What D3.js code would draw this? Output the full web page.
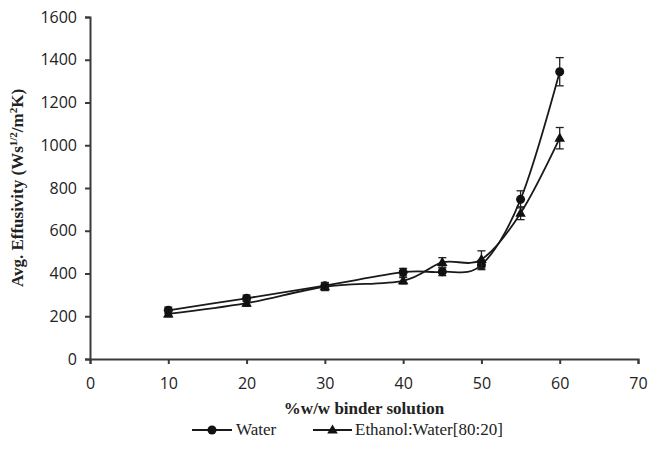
<!DOCTYPE html>
<html>
<head>
<meta charset="utf-8">
<script src="https://cdn.jsdelivr.net/npm/d3@7"></script>
<style>
  body { margin: 0; background: #fff; }
  svg { display: block; }
  .tick text { font-family: "Open Sans", sans-serif; font-size: 16px; fill: #222; }
</style>
</head>
<body>
<div id="chart"></div>
<script>
// Values
const concentrations = [10, 20, 30, 40, 45, 50, 55, 60];
const waterMean = [228, 284, 343, 406, 408, 440, 747, 1344];
const waterErr = [15, 15, 15, 18, 18, 22, 40, 66];
const ethanolMean = [211, 261, 338, 366, 452, 466, 682, 1033];
const ethanolErr = [14, 14, 18, 15, 22, 40, 30, 50];
const xTicks = [0, 10, 20, 30, 40, 50, 60, 70];
const yTicks = [0, 200, 400, 600, 800, 1000, 1200, 1400, 1600];

const width = 649, height = 456;
const margin = {top: 17, right: 11, bottom: 97, left: 90};

const svg = d3.select('#chart').append('svg')
  .attr('width', width)
  .attr('height', height);

const x = d3.scaleLinear().domain([0, 70]).range([margin.left, width - margin.right]);
const y = d3.scaleLinear().domain([0, 1600]).range([height - margin.bottom, margin.top]);

const axisColor = '#3a3a3a';

// Axes
const xAxis = svg.append('g')
  .attr('transform', 'translate(0,' + y(0) + ')')
  .call(d3.axisBottom(x).tickValues(xTicks).tickFormat(d3.format('d')).tickSize(5).tickPadding(14));
const yAxis = svg.append('g')
  .attr('transform', 'translate(' + x(0) + ',0)')
  .call(d3.axisLeft(y).tickValues(yTicks).tickFormat(d3.format('d')).tickSize(5).tickPadding(8));
[xAxis, yAxis].forEach(function(a) {
  a.select('.domain').attr('stroke', axisColor).attr('stroke-width', 2);
  a.selectAll('.tick line').attr('stroke', axisColor).attr('stroke-width', 2);
});

// Series
const series = [
  {name: 'Water', mean: waterMean, err: waterErr, marker: 'circle'},
  {name: 'Ethanol:Water[80:20]', mean: ethanolMean, err: ethanolErr, marker: 'triangle'}
];

const line = d3.line()
  .x(function(d) { return x(d[0]); })
  .y(function(d) { return y(d[1]); })
  .curve(d3.curveCatmullRom.alpha(0));

function drawMarker(g, type, cx, cy) {
  if (type === 'circle') {
    g.append('circle').attr('cx', cx).attr('cy', cy).attr('r', 4.5).attr('fill', '#111');
  } else {
    g.append('path')
      .attr('d', d3.symbol().type(d3.symbolTriangle).size(48)())
      .attr('transform', 'translate(' + cx + ',' + (cy + 0.5) + ')')
      .attr('fill', '#111');
  }
}

series.forEach(function(s) {
  const pts = concentrations.map(function(c, i) { return [c, s.mean[i]]; });
  const g = svg.append('g');
  g.append('path')
    .attr('d', line(pts))
    .attr('fill', 'none')
    .attr('stroke', '#1a1a1a')
    .attr('stroke-width', 1.8);

  // Error bars
  concentrations.forEach(function(c, i) {
    const cx = x(c);
    const top = y(s.mean[i] + s.err[i]);
    const bot = y(s.mean[i] - s.err[i]);
    g.append('line').attr('x1', cx).attr('x2', cx).attr('y1', top).attr('y2', bot)
      .attr('stroke', '#222').attr('stroke-width', 1.3);
    [top, bot].forEach(function(yy) {
      g.append('line').attr('x1', cx - 4).attr('x2', cx + 4).attr('y1', yy).attr('y2', yy)
        .attr('stroke', '#222').attr('stroke-width', 1.3);
    });
    drawMarker(g, s.marker, cx, y(s.mean[i]));
  });
});

// Axis titles
svg.append('text')
  .attr('x', (x(0) + x(70)) / 2)
  .attr('y', 414)
  .attr('text-anchor', 'middle')
  .style('font-family', '"Liberation Serif", "Times New Roman", serif')
  .style('font-weight', 'bold')
  .style('font-size', '17px')
  .style('fill', '#222')
  .text('%w/w binder solution');

const yTitle = svg.append('text')
  .attr('transform', 'translate(23,' + ((y(0) + y(1600)) / 2) + ') rotate(-90)')
  .attr('text-anchor', 'middle')
  .style('font-family', '"Liberation Serif", "Times New Roman", serif')
  .style('font-weight', 'bold')
  .style('font-size', '17px')
  .style('fill', '#222');
yTitle.append('tspan').text('Avg. Effusivity (Ws');
yTitle.append('tspan').attr('dy', -6).style('font-size', '11px').text('1/2');
yTitle.append('tspan').attr('dy', 6).text('/m');
yTitle.append('tspan').attr('dy', -6).style('font-size', '11px').text('2');
yTitle.append('tspan').attr('dy', 6).text('K)');

// Legend
const legendItems = [
  {x0: 192, x1: 232, tx: 236, name: series[0].name, marker: 'circle'},
  {x0: 313, x1: 352, tx: 355, name: series[1].name, marker: 'triangle'}
];
const legendY = 430;
legendItems.forEach(function(it) {
  const g = svg.append('g');
  g.append('line').attr('x1', it.x0).attr('x2', it.x1).attr('y1', legendY).attr('y2', legendY)
    .attr('stroke', '#1a1a1a').attr('stroke-width', 1.8);
  drawMarker(g, it.marker, (it.x0 + it.x1) / 2, legendY);
  g.append('text')
    .attr('x', it.tx)
    .attr('y', legendY + 5)
    .style('font-family', '"Liberation Serif", "Times New Roman", serif')
    .style('font-size', '17px')
    .style('fill', '#222')
    .text(it.name);
});
</script>
</body>
</html>
